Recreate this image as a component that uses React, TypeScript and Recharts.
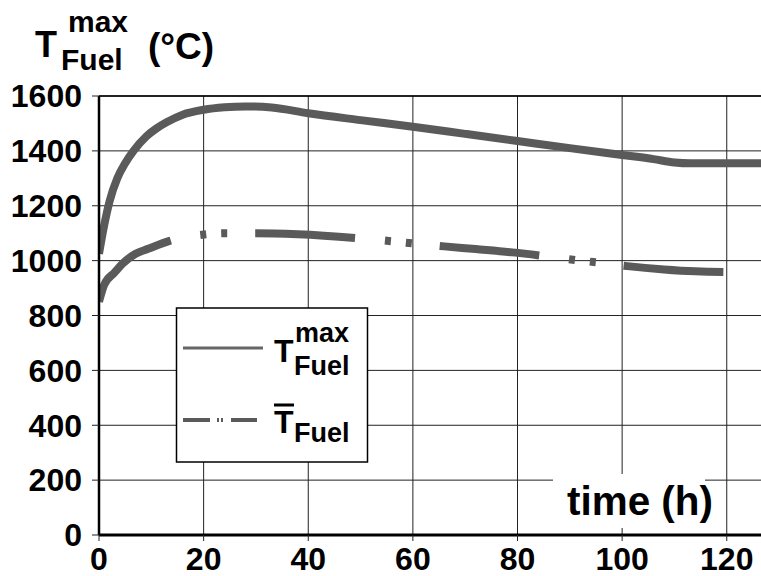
import React from 'react';
import { LineChart, Line, XAxis, YAxis, CartesianGrid, ReferenceLine } from 'recharts';

// Maximum fuel temperature (°C) vs time (h)
const timeMax = [0, 1, 2, 3.5, 5, 6.6, 9, 11, 13, 16, 20, 24, 28, 33, 40, 50, 60, 70, 80, 90, 100, 106, 110, 113, 120, 127];
const tempMax = [1025, 1130, 1215, 1300, 1355, 1400, 1452, 1482, 1505, 1532, 1550, 1559, 1562, 1558, 1537, 1512, 1488, 1462, 1436, 1410, 1385, 1370, 1358, 1355, 1355, 1355];

// Mean fuel temperature (°C) vs time (h)
const timeMean = [0, 1, 3, 4.5, 7, 9.4, 13.5, 20.5, 24, 30, 38, 50, 60, 66, 72, 79, 85, 92, 95, 101, 108, 114, 121];
const tempMean = [850, 912, 957, 989, 1025, 1043, 1072, 1096, 1100, 1100, 1096, 1081, 1063, 1052, 1042, 1030, 1017, 1000, 994, 980, 968, 961, 958];

const xTicks = [0, 20, 40, 60, 80, 100, 120];
const yTicks = [0, 200, 400, 600, 800, 1000, 1200, 1400, 1600];

const maxData = timeMax.map((t, i) => ({ t, v: tempMax[i] }));
const meanData = timeMean.map((t, i) => ({ t, v: tempMean[i] }));

const FONT = '"Liberation Sans", Arial, Helvetica, sans-serif';
const CURVE = '#5a5a5a';

export default function App() {
  const tickStyle = { fontSize: 32, fontWeight: 'bold' as const, fill: '#000', fontFamily: FONT };
  return (
    <div style={{ position: 'absolute', left: 0, top: 0, width: 761, height: 576, background: '#fff', overflow: 'hidden' }}>
      <LineChart width={800} height={576} margin={{ top: 96, right: 0, bottom: 0, left: 0 }}>
        <CartesianGrid stroke="#222" strokeWidth={1} />
        <XAxis
          type="number"
          dataKey="t"
          domain={[0, 134]}
          ticks={xTicks}
          interval={0}
          allowDataOverflow
          height={41}
          tickSize={6}
          tickMargin={6}
          tick={tickStyle}
          axisLine={{ stroke: '#000', strokeWidth: 3 }}
          tickLine={{ stroke: '#222', strokeWidth: 1 }}
        />
        <YAxis
          type="number"
          domain={[0, 1600]}
          ticks={yTicks}
          interval={0}
          width={99}
          tickSize={7}
          tickMargin={10}
          tick={tickStyle}
          axisLine={{ stroke: '#000', strokeWidth: 2.5 }}
          tickLine={{ stroke: '#222', strokeWidth: 1 }}
        />
        <ReferenceLine y={1600} stroke="#000" strokeWidth={1.5} />
        <Line
          data={maxData}
          dataKey="v"
          type="monotone"
          stroke={CURVE}
          strokeWidth={8}
          dot={false}
          activeDot={false}
          isAnimationActive={false}
        />
        <Line
          data={meanData}
          dataKey="v"
          type="monotone"
          stroke={CURVE}
          strokeWidth={8}
          strokeDasharray="100 30 6 15 6 28"
          strokeLinecap="butt"
          dot={false}
          activeDot={false}
          isAnimationActive={false}
        />
      </LineChart>
      <svg
        width={761}
        height={576}
        style={{ position: 'absolute', left: 0, top: 0, pointerEvents: 'none' }}
        fontFamily={FONT}
        fontWeight="bold"
      >
        {/* Title */}
        <text x={35} y={57} fontSize={36} fill="#000">T</text>
        <text x={68} y={32} fontSize={30} fill="#000">max</text>
        <text x={61} y={70} fontSize={30} fill="#000">Fuel</text>
        <text x={148} y={59} fontSize={37} fill="#000">(°C)</text>

        {/* Legend */}
        <rect x={176.5} y={308} width={191} height={154} fill="#fff" stroke="#000" strokeWidth={1.5} />
        <line x1={183} y1={348} x2={263} y2={348} stroke="#666" strokeWidth={3} />
        <text x={274} y={362} fontSize={32} fill="#000">T</text>
        <text x={295} y={342} fontSize={27} fill="#000">max</text>
        <text x={294} y={375} fontSize={27} fill="#000">Fuel</text>

        <line x1={183} y1={420} x2={257} y2={420} stroke={CURVE} strokeWidth={4} strokeDasharray="27 7 2 2 2 8 26" />
        <text x={274} y={433} fontSize={32} fill="#000">T</text>
        <rect x={274} y={403.5} width={20} height={3} fill="#000" />
        <text x={294} y={442} fontSize={27} fill="#000">Fuel</text>

        {/* Axis title */}
        <rect x={553} y={474} width={152} height={54} fill="#fff" />
        <text x={567} y={515} fontSize={41} fill="#000" textLength={146} lengthAdjust="spacingAndGlyphs">time (h)</text>
      </svg>
    </div>
  );
}
